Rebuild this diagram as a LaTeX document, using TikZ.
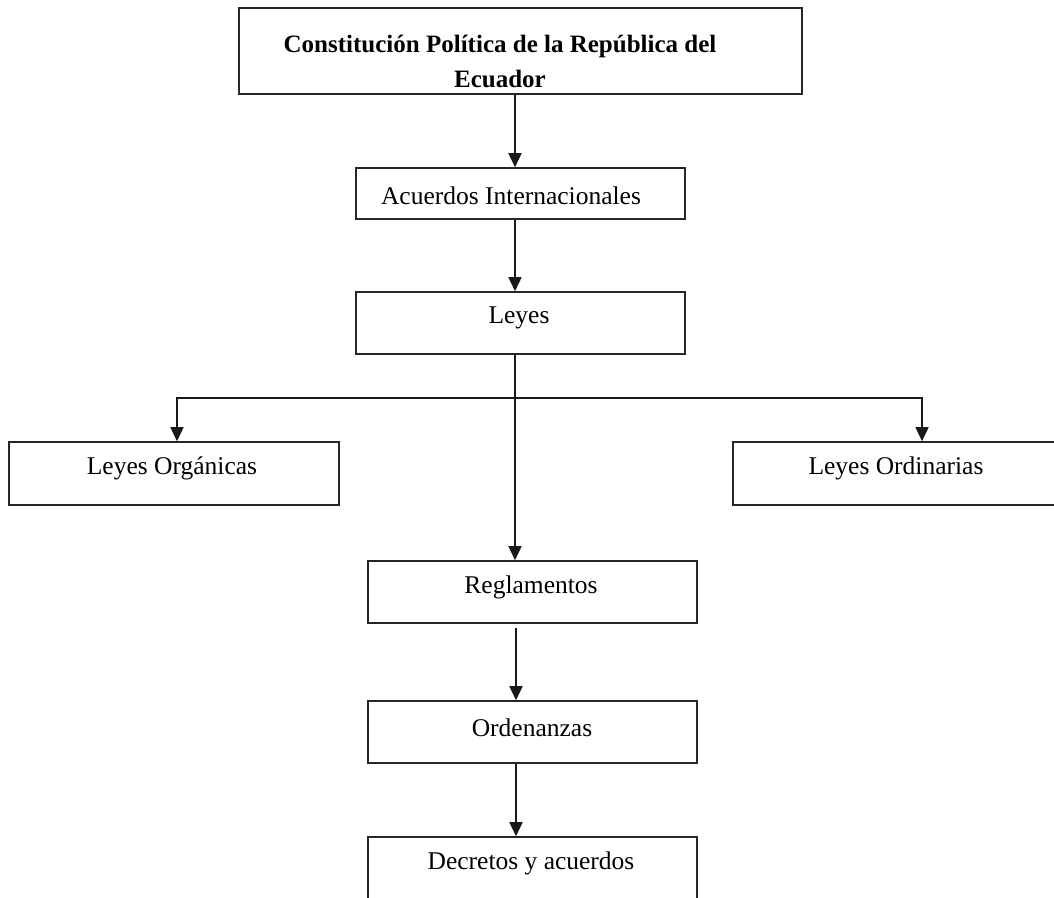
\documentclass[tikz,border=0pt]{standalone}
\usepackage{fontspec}
\setmainfont{Liberation Serif}
\usetikzlibrary{arrows.meta}
\tikzset{
  boxnode/.style={draw=black!85, line width=1.6pt, rectangle, inner sep=0pt},
  lbl/.style={inner sep=0pt, font=\fontsize{25.5}{35}\selectfont, align=center},
  conn/.style={draw=black!90, line width=1.6pt},
  arr/.style={conn, -{Triangle[length=14pt,width=13pt]}}
}
\begin{document}
\begin{tikzpicture}[x=1pt,y=-1pt]
\useasboundingbox (0,0) rectangle (1054,897);
\fill[white] (0,0) rectangle (1054,897);
\clip (0,0) rectangle (1054,897);
% boxes
\node[boxnode, minimum width=563pt, minimum height=86pt] (top) at (520.5,51) {};
\node[boxnode, minimum width=329pt, minimum height=51pt] (acu) at (520.5,193.5) {};
\node[boxnode, minimum width=329pt, minimum height=62pt] (leyes) at (520.5,323) {};
\node[boxnode, minimum width=330pt, minimum height=63pt] (org) at (174,473.5) {};
\node[boxnode, minimum width=330pt, minimum height=63pt] (ord) at (898,473.5) {};
\node[boxnode, minimum width=329pt, minimum height=62pt] (reg) at (532.5,592) {};
\node[boxnode, minimum width=329pt, minimum height=62pt] (orden) at (532.5,732) {};
\node[boxnode, minimum width=329pt, minimum height=62pt] (dec) at (532.5,868) {};
% labels
\node[lbl, font=\fontsize{25}{35}\selectfont\bfseries] (ttop) at (500,61) {Constitución Política de la República del\\Ecuador};
\node[lbl] (tacu) at (511,196) {Acuerdos Internacionales};
\node[lbl] (tleyes) at (519,318) {Leyes};
\node[lbl] (torg) at (172,468) {Leyes Orgánicas};
\node[lbl] (tord) at (896,468) {Leyes Ordinarias};
\node[lbl] (treg) at (531,587) {Reglamentos};
\node[lbl] (torden) at (532,728) {Ordenanzas};
\node[lbl] (tdec) at (531,863) {Decretos y acuerdos};
% spine coordinates
\coordinate (sp) at (515,0);
\coordinate (sp2) at (516,0);
\coordinate (branch) at (515,398);
\coordinate (lft) at (177,398);
\coordinate (rgt) at (922,398);
% connectors
\draw[arr] (top.south -| sp) -- (acu.north -| sp);
\draw[arr] (acu.south -| sp) -- (leyes.north -| sp);
\draw[arr] (leyes.south -| sp) -- (reg.north -| sp);
\draw[arr] (branch) -- (lft) -- (org.north -| lft);
\draw[arr] (branch) -- (rgt) -- (ord.north -| rgt);
\draw[arr, shorten <=4pt] (reg.south -| sp2) -- (orden.north -| sp2);
\draw[arr] (orden.south -| sp2) -- (dec.north -| sp2);
\end{tikzpicture}
\end{document}
